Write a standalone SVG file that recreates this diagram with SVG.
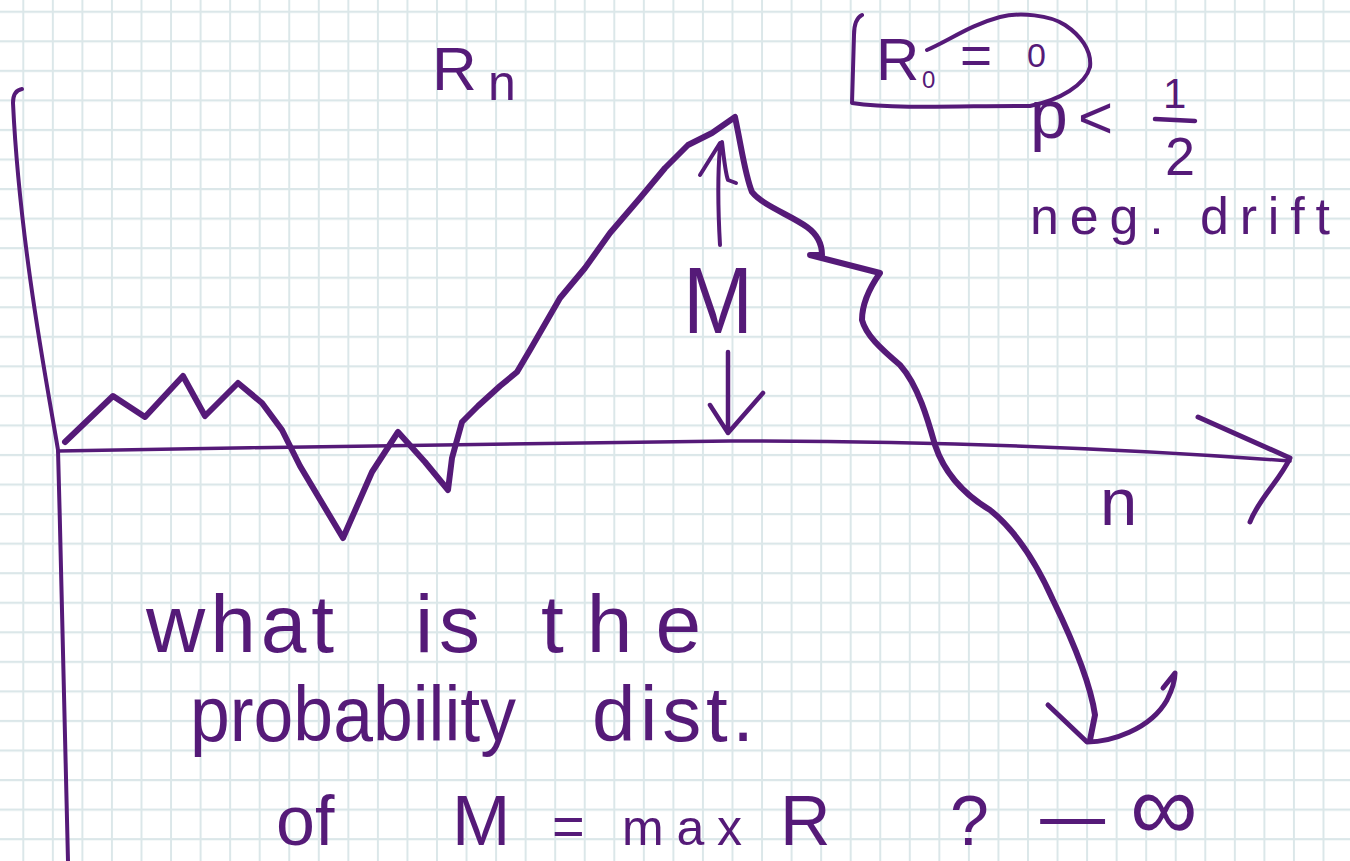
<svg xmlns="http://www.w3.org/2000/svg" width="1350" height="861" viewBox="0 0 1350 861">
<defs>
<pattern id="gridp" patternUnits="userSpaceOnUse" x="22.3" y="10.7" width="29.55" height="29.55">
<rect x="0" y="0" width="2" height="29.55" fill="#dbe7e9"/>
<rect x="0" y="0" width="29.55" height="2.2" fill="#dbe7e9"/>
</pattern>
</defs>
<style>
.ink{fill:none;stroke:#551a78;stroke-linecap:round;stroke-linejoin:round}
.t{fill:#551a78;font-family:"Liberation Sans","DejaVu Sans",sans-serif}
</style>
<rect width="1350" height="861" fill="#ffffff"/>
<rect id="grid" width="1350" height="861" fill="url(#gridp)"/>
<g id="axes">
<path class="ink" stroke-width="4" d="M22,89 C16,90 13,95 13,103 C20,250 50,400 58,450 C62,600 66,760 68,861"/>
<path class="ink" stroke-width="3.5" d="M58,451 C300,447 600,441 730,441 S1050,443 1290,461"/>
<path class="ink" stroke-width="5" d="M1198,417 L1290,458 C1280,480 1258,500 1250,522"/>
</g>
<g id="walk">
<path class="ink" stroke-width="6" d="M65,442 L113,396 L145,417 L183,376 L205,416 L238,383 L262,403 L282,430 L300,466 L343,538 L372,472 L398,432 L425,462 L448,490 L452,458 L462,422 L478,406 L500,386 L517,372 L530,350 L560,298 L585,268 L610,233 L640,198 L665,168 L688,145 L712,133 L735,117 C742,150 745,175 752,192 C762,205 790,215 807,227 C818,235 822,245 822,255 L810,255 L880,273 C868,290 862,305 862,320 C866,335 880,348 900,365 C918,385 928,420 935,445 C945,475 965,495 990,510 C1015,530 1035,560 1053,600 C1070,635 1090,680 1095,715 L1090,740"/>
<path class="ink" stroke-width="5" d="M1048,705 L1087,742 C1110,742 1150,730 1167,700 C1172,690 1175,680 1175,673 L1163,688"/>
</g>
<g id="max-arrows">
<path class="ink" stroke-width="4" d="M720,245 C718,210 718,170 720,147 M700,175 L720,143 M722,142 C724,160 726,175 728,180 L736,183"/>
<path class="ink" stroke-width="4.5" d="M728,352 L728,433 M710,405 L728,433 L763,393"/>
</g>
<g id="initial-loop">
<path class="ink" stroke-width="4" d="M862,15 C856,18 854,25 854,35 L852,103 C900,110 980,105 1030,106 C1060,100 1085,85 1090,67 C1092,50 1080,35 1065,25 C1050,15 1020,12 1000,17 C970,25 950,40 927,50"/>
<path class="ink" stroke-width="4.5" d="M1155,119 L1195,121"/>
</g>
<g id="labels">
<text class="t" x="432" y="90" font-size="62">R</text>
<text class="t" x="488" y="100" font-size="50">n</text>
<text class="t" x="876" y="80" font-size="60">R</text>
<text class="t" x="922" y="88" font-size="24">0</text>
<text class="t" x="960" y="74" font-size="55">=</text>
<text class="t" x="1027" y="67" font-size="34">0</text>
<text class="t" x="1030" y="138" font-size="68">p</text>
<text class="t" x="1078" y="138" font-size="60">&lt;</text>
<text class="t" x="1163" y="108" font-size="42">1</text>
<text class="t" x="1165" y="175" font-size="54">2</text>
<text class="t" x="1030" y="234" font-size="52" textLength="300" lengthAdjust="spacing">neg. drift</text>
<text class="t" x="683" y="333" font-size="95" textLength="70" lengthAdjust="spacingAndGlyphs">M</text>
<text class="t" x="1100" y="525" font-size="67">n</text>
<text class="t" x="146" y="652" font-size="82" textLength="188" lengthAdjust="spacing">what</text>
<text class="t" x="415" y="652" font-size="82" textLength="65" lengthAdjust="spacing">is</text>
<text class="t" x="541" y="652" font-size="82" textLength="160" lengthAdjust="spacing">the</text>
<text class="t" x="190" y="741" font-size="78" textLength="326" lengthAdjust="spacingAndGlyphs">probability</text>
<text class="t" x="592" y="741" font-size="78" textLength="162" lengthAdjust="spacing">dist.</text>
<text class="t" x="276" y="845" font-size="70">of</text>
<text class="t" x="452" y="845" font-size="70">M</text>
<text class="t" x="552" y="845" font-size="56">=</text>
<text class="t" x="622" y="845" font-size="50" textLength="120" lengthAdjust="spacing">max</text>
<text class="t" x="780" y="845" font-size="70">R</text>
<text class="t" x="950" y="845" font-size="70">?</text>
<text class="t" x="1034" y="845" font-size="70" textLength="78" lengthAdjust="spacingAndGlyphs">−</text>
<text class="t" x="1130" y="840" font-size="95">∞</text>
</g>
</svg>
